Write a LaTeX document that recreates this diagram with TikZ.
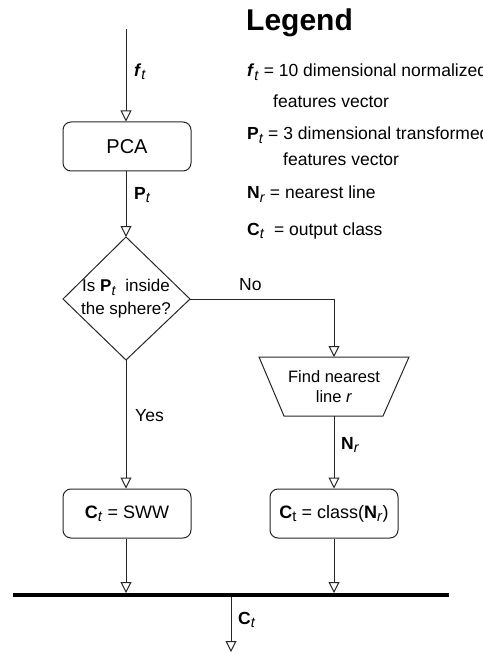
\documentclass[tikz,border=0pt]{standalone}
\usepackage{fontspec}
\usepackage{graphicx}
\setmainfont{Liberation Sans}
\usetikzlibrary{arrows.meta,calc}

% italic subscript used for the vector indices
\newcommand\isub[1]{\raisebox{-0.35ex}{\scalebox{0.82}{\textit{#1}}}}
\newcommand\usub[1]{\raisebox{-0.35ex}{\scalebox{0.82}{#1}}}

\begin{document}
\begin{tikzpicture}[x=1pt,y=-1pt,
  every node/.style={font=\fontsize{18}{22}\selectfont, inner sep=0pt},
  shapeline/.style={draw=black!85, line width=1pt},
  flow/.style={draw=black!85, line width=1pt, -{Triangle[open,length=11pt,width=11pt,line width=1pt]}},
  box/.style={shapeline, rounded corners=8pt, minimum width=128pt, minimum height=49pt},
  lbl/.style={anchor=west, font=\fontsize{17.5}{21}\selectfont},
  legtext/.style={anchor=base west, font=\fontsize{17.5}{21}\selectfont},
  bus/.style={draw=black, line width=4pt}
]
\useasboundingbox (0,0) rectangle (482,652);
\clip (0,0) rectangle (482,652);

% ---- input and PCA ----
\coordinate (in) at (126,29);
\node[box, font=\fontsize{20}{24}\selectfont] (pca) at (127,146.5) {PCA};
\draw[flow] (in) -- (pca.north -| in);
\node[lbl] (flab) at (134,72) {\textbf{\textit{f}}\isub{t}};

% ---- decision diamond ----
\coordinate (dtop) at (126,237);
\coordinate (dright) at (190,299);
\coordinate (dbot) at (126,360);
\coordinate (dleft) at (63,299);
\draw[shapeline] (dtop) -- (dright) -- (dbot) -- (dleft) -- cycle;
\node[align=center, font=\fontsize{17}{23}\selectfont] (dtext) at (126,299)
  {Is \textbf{P}\isub{t}\ \ inside\\the sphere?};
\draw[flow] (pca.south -| in) -- (dtop);
\node[lbl] (plab) at (134,195) {\textbf{P}\isub{t}};

% ---- find nearest line (inverted trapezoid) ----
\coordinate (ttl) at (259,357);
\coordinate (ttr) at (409,357);
\coordinate (tbr) at (383,416);
\coordinate (tbl) at (284,416);
\coordinate (ttop) at (334,357);
\coordinate (tbot) at (334,416);
\draw[shapeline] (ttl) -- (ttr) -- (tbr) -- (tbl) -- cycle;
\node[align=center, font=\fontsize{16.5}{20}\selectfont] (ttext) at (334,387)
  {Find nearest\\line \textit{r}};
\draw[flow] (dright) -| (ttop);
\node[lbl] (nolab) at (239,285) {No};

% ---- outcome boxes ----
\node[box] (sww) at (127,513.5) {\textbf{C}\isub{t} = SWW};
\node[box] (cls) at (334,513.5) {\textbf{C}\usub{t} = class(\textbf{N}\isub{r})};
\draw[flow] (dbot) -- (sww.north -| dbot);
\node[lbl] (yeslab) at (135,416) {Yes};
\draw[flow] (tbot) -- (cls.north -| tbot);
\node[lbl] (nrlab) at (341,445) {\textbf{N}\isub{r}};

% ---- merge bar and output ----
\coordinate (busl) at (13,595);
\coordinate (busr) at (449,595);
\coordinate (busin) at (231,597);
\coordinate (out) at (231,652);
\draw[bus] (busl) -- (busr);
\draw[flow] (sww.south -| dbot) -- ($(busl -| dbot)+(0,-2)$);
\draw[flow] (cls.south -| tbot) -- ($(busl -| tbot)+(0,-2)$);
\draw[flow] (busin) -- (out);
\node[lbl] (clab) at (238,620) {\textbf{C}\isub{t}};

% ---- legend ----
\node[anchor=base west, font=\fontsize{30}{34}\selectfont\bfseries] (legtitle) at (246,31) {Legend};
\node[legtext] (leg1) at (247,77) {\textbf{\textit{f}}\isub{t} = 10 dimensional normalized};
\node[legtext] (leg1b) at (273,108) {features vector};
\node[legtext] (leg2) at (247,140) {\textbf{P}\isub{t} = 3 dimensional transformed};
\node[legtext] (leg2b) at (283,166) {features vector};
\node[legtext] (leg3) at (247,199) {\textbf{N}\isub{r} = nearest line};
\node[legtext] (leg4) at (247,235) {\textbf{C}\isub{t}\ \ = output class};
\end{tikzpicture}
\end{document}
